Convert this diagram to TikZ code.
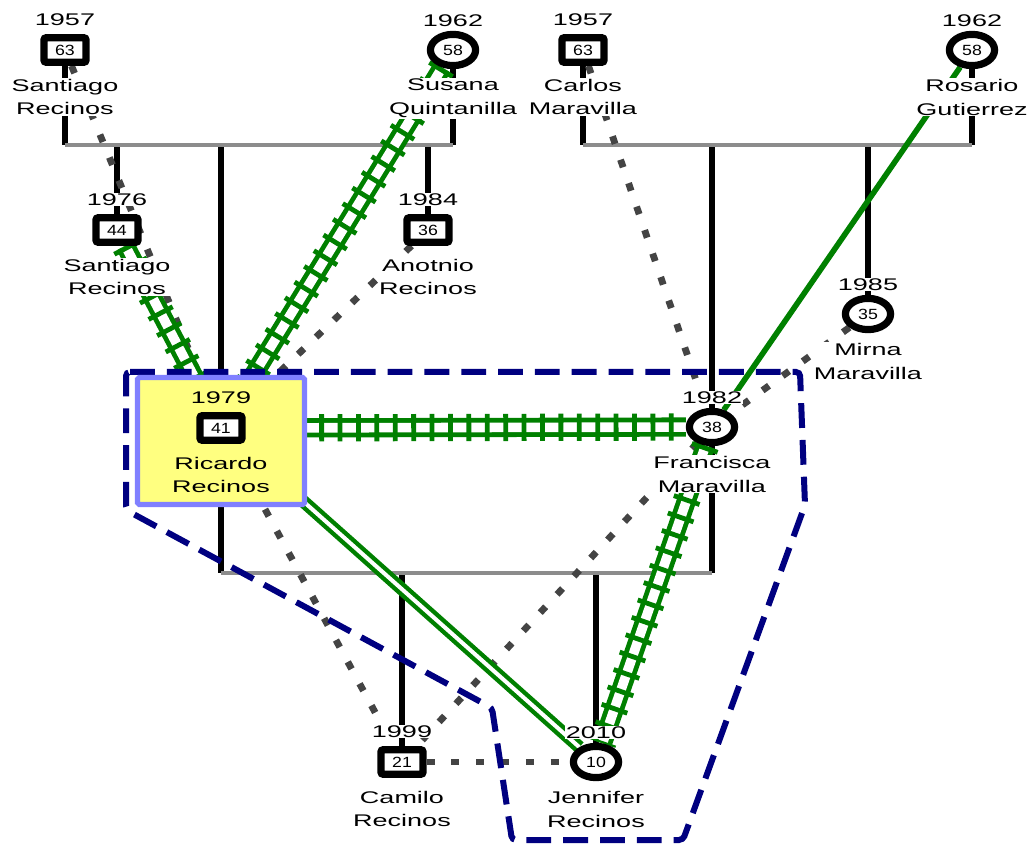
\documentclass[tikz,border=0pt]{standalone}
\usepackage{fontspec}
\setmainfont{Liberation Sans}[FakeStretch=1.6]
\newfontfamily\agefont{Liberation Sans}[FakeStretch=1.2]
\usetikzlibrary{shapes.geometric,positioning,backgrounds}

\definecolor{relgreen}{HTML}{008000}
\definecolor{linkgray}{HTML}{8C8C8C}
\definecolor{distgray}{HTML}{444444}
\definecolor{boundnavy}{HTML}{000080}
\definecolor{focusfill}{HTML}{FFFF80}
\definecolor{focusdraw}{HTML}{8080FF}

\begin{document}
\begin{tikzpicture}[
    x=0.025cm, y=-0.025cm,
    male/.style={rectangle, draw, fill=white, line width=0.18cm, rounded corners=0.05cm, minimum width=1.05cm, minimum height=0.61cm, inner sep=0pt, font=\agefont\fontsize{10.5}{12}\selectfont},
    female/.style={ellipse, draw, fill=white, line width=0.18cm, minimum width=1.13cm, minimum height=0.78cm, inner sep=0pt, font=\agefont\fontsize{10.5}{12}\selectfont},
    born/.style={fill=white, inner sep=0.5pt, font=\fontsize{12}{14}\selectfont},
    person/.style={fill=white, inner sep=0.5pt, align=center, font=\fontsize{12}{17}\selectfont},
    focus/.style={rectangle, draw=focusdraw, fill=focusfill, line width=0.13cm, rounded corners=0.04cm, minimum width=4.17cm, minimum height=3.17cm},
    bond/.style={line width=0.17cm},
    couple/.style={linkgray, line width=0.11cm},
    fused/.style={draw=relgreen, line width=0.68cm, dash pattern=on 0.12cm off 0.34cm, preaction={draw=relgreen, solid, line width=0.12cm, double=white, double distance=0.24cm}},
    strong/.style={relgreen, line width=0.14cm},
    friendly/.style={relgreen, line width=0.11cm, double=white, double distance=0.1cm},
    distant/.style={distgray, line width=0.17cm, dash pattern=on 0.2cm off 0.42cm},
    boundary/.style={boundnavy, line width=0.15cm, dash pattern=on 0.62cm off 0.3cm, rounded corners=0.1cm}
]
\useasboundingbox (0,0) rectangle (1034,846);

% Recinos grandparents
\node[male] (santiago) at (65,50) {63};
\node[born, above=0.2cm of santiago] (santiagoyr) {1957};
\node[person, below=0.3cm of santiago] (santiagolbl) {Santiago\\Recinos};

\node[female] (susana) at (453,50) {58};
\node[born, above=0.08cm of susana] (susanayr) {1962};
\node[person, below=0.22cm of susana] (susanalbl) {Susana\\Quintanilla};

% Maravilla grandparents
\node[male] (carlos) at (583,50) {63};
\node[born, above=0.2cm of carlos] (carlosyr) {1957};
\node[person, below=0.3cm of carlos] (carloslbl) {Carlos\\Maravilla};

\node[female] (rosario) at (972,50) {58};
\node[born, above=0.08cm of rosario] (rosarioyr) {1962};
\node[person, below=0.22cm of rosario] (rosariolbl) {Rosario\\Gutierrez};

% Siblings
\node[male] (santiagojr) at (117,230) {44};
\node[born, above=0.2cm of santiagojr] (santiagojryr) {1976};
\node[person, below=0.3cm of santiagojr] (santiagojrlbl) {Santiago\\Recinos};

\node[male] (antonio) at (428,230) {36};
\node[born, above=0.2cm of antonio] (antonioyr) {1984};
\node[person, below=0.3cm of antonio] (antoniolbl) {Anotnio\\Recinos};

\node[female] (mirna) at (868,314) {35};
\node[born, above=0.08cm of mirna] (mirnayr) {1985};
\node[person, below=0.22cm of mirna] (mirnalbl) {Mirna\\Maravilla};

% Ricardo (focus person)
\node[focus] (ricbox) at (221,441) {};
\node[male] (ricardo) at (221,428) {41};
\node[born, fill=none, above=0.2cm of ricardo] (ricardoyr) {1979};
\node[person, fill=none, below=0.3cm of ricardo] (ricardolbl) {Ricardo\\Recinos};

\node[female] (francisca) at (712,427) {38};
\node[born, above=0.08cm of francisca] (franciscayr) {1982};
\node[person, below=0.22cm of francisca] (franciscalbl) {Francisca\\Maravilla};

% Children
\node[male] (camilo) at (402,762) {21};
\node[born, above=0.2cm of camilo] (camiloyr) {1999};
\node[person, below=0.3cm of camilo] (camilolbl) {Camilo\\Recinos};

\node[female] (jennifer) at (596,762) {10};
\node[born, above=0.08cm of jennifer] (jenniferyr) {2010};
\node[person, below=0.22cm of jennifer] (jenniferlbl) {Jennifer\\Recinos};

\coordinate (union1) at (259,145);
\coordinate (union2) at (777,145);
\coordinate (union3) at (467,573);

\begin{scope}[on background layer]
% Family lines
\draw[bond] (santiago) -- (santiago |- union1);
\draw[bond] (susana) -- (susana |- union1);
\draw[bond] (union1 -| santiagojr) -- (santiagojr);
\draw[bond] (union1 -| ricardo) -- (ricardo);
\draw[bond] (union1 -| antonio) -- (antonio);
\draw[bond] (carlos) -- (carlos |- union2);
\draw[bond] (rosario) -- (rosario |- union2);
\draw[bond] (union2 -| francisca) -- (francisca);
\draw[bond] (union2 -| mirna) -- (mirna);
\draw[bond] (ricardo) -- (ricardo |- union3);
\draw[bond] (francisca) -- (francisca |- union3);
\draw[bond] (union3 -| camilo) -- (camilo);
\draw[bond] (union3 -| jennifer) -- (jennifer);
\draw[couple] (santiago |- union1) -- (susana |- union1);
\draw[couple] (carlos |- union2) -- (rosario |- union2);
\draw[couple] (ricardo |- union3) -- (francisca |- union3);

% Relationships
\draw[distant] (santiago) -- (ricardo);
\draw[distant] (antonio) -- (ricardo);
\draw[distant] (carlos) -- (francisca);
\draw[distant] (mirna) -- (francisca);
\draw[distant] (ricardo) -- (camilo);
\draw[distant] (francisca) -- (camilo);
\draw[distant] (camilo) -- (jennifer);
\draw[fused] (santiagojr) -- (ricardo);
\draw[fused] (susana) -- (ricardo);
\draw[fused] (ricardo) -- (francisca);
\draw[fused] (francisca) -- (jennifer);
\draw[strong] (rosario) -- (francisca);
\draw[friendly] (ricardo) -- (jennifer);

% Emotional boundary
\draw[boundary] (126,372) -- (800,372) -- (805,505) -- (683,840) -- (512,840) -- (492,708) -- (126,510) -- cycle;
\end{scope}

\end{tikzpicture}
\end{document}
